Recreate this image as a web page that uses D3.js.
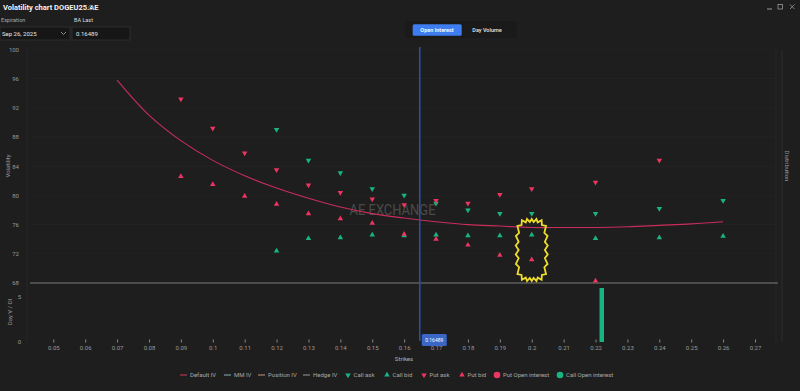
<!DOCTYPE html>
<html>
<head>
<meta charset="utf-8">
<script src="https://cdn.jsdelivr.net/npm/d3@7"></script>
<style>
  html, body { margin: 0; padding: 0; background: #1e1e1e; overflow: hidden; }
  svg { display: block; font-family: Roboto, "Noto Sans", sans-serif; }
</style>
</head>
<body>
<svg id="chart" width="800" height="391"></svg>
<script>
(function(){
	'use strict';

	// strikes with quotes
	var strikes   = [0.09, 0.10, 0.11, 0.12, 0.13, 0.14, 0.15, 0.16, 0.17, 0.18, 0.19, 0.20, 0.21, 0.22, 0.23, 0.24, 0.25, 0.26];
	var callAskIV = [null, null, null, 89.0, 84.8, 83.1, 80.9, 80.0, 78.9, 78.0, 77.5, 77.5, null, 77.5, null, 78.2, null, 79.3];
	var callBidIV = [null, null, null, 72.4, 74.1, 74.2, 74.6, 74.5, 74.6, 74.5, 74.5, 74.6, null, 74.1, null, 74.2, null, 74.4];
	var putAskIV  = [93.2, 89.2, 85.8, 83.5, 81.4, 80.4, 79.5, 78.7, 79.3, 78.9, 80.1, 80.9, null, 81.8, null, 84.8, null, null];
	var putBidIV  = [82.6, 81.5, 79.9, 78.8, 77.5, 76.8, 76.2, 74.7, 74.0, 73.2, 71.8, 71.2, null, 68.3, null, null, null, null];

	// default IV smile
	var curveStrikes = [0.07, 0.08, 0.09, 0.10, 0.11, 0.12, 0.13, 0.14, 0.15, 0.16, 0.17, 0.18, 0.19, 0.20, 0.21, 0.22, 0.23, 0.24, 0.25, 0.26];
	var defaultIV    = [95.8, 91.0, 87.5, 84.8, 82.7, 81.0, 79.6, 78.4, 77.5, 76.9, 76.4, 76.0, 75.8, 75.6, 75.6, 75.6, 75.7, 75.9, 76.1, 76.4];

	// open interest
	var oiStrikes = [0.22];
	var callOI    = [6];
	var putOI     = [0];

	var lastPrice = 0.16489;
	var xTicks = [0.05, 0.06, 0.07, 0.08, 0.09, 0.10, 0.11, 0.12, 0.13, 0.14, 0.15, 0.16, 0.17, 0.18, 0.19, 0.20, 0.21, 0.22, 0.23, 0.24, 0.25, 0.26, 0.27];
	var ivTicks = [68, 72, 76, 80, 84, 88, 92, 96, 100];
	var oiTicks = [0, 5];

	var legendItems = [
		{label: 'Default IV', type: 'line', color: '#d2355f'},
		{label: 'MM IV', type: 'line', color: '#8fa9b3'},
		{label: 'Position IV', type: 'line', color: '#c9957a'},
		{label: 'Hedge IV', type: 'line', color: '#9a9a9a'},
		{label: 'Call ask', type: 'down', color: '#17b583'},
		{label: 'Call bid', type: 'up', color: '#17b583'},
		{label: 'Put ask', type: 'down', color: '#ec3560'},
		{label: 'Put bid', type: 'up', color: '#ec3560'},
		{label: 'Put Open interest', type: 'dot', color: '#ec3560'},
		{label: 'Call Open interest', type: 'dot', color: '#17b583'}
	];

	var green = '#17b583', red = '#ec3560';
	var left = 30, right = 776;

	var svg = d3.select('#chart');

	var x = d3.scaleLinear().domain([0.05, 0.27]).range([53.3, 755]);
	var yIV = d3.scaleLinear().domain([68, 100]).range([283, 49.4]);
	var yOI = d3.scaleLinear().domain([0, 5]).range([342, 297]);

	// ---- header ----
	var head = svg.append('g');
	head.append('text').attr('x', 3).attr('y', 10).attr('fill', '#f2f2f2')
		.attr('font-size', 7.5).attr('font-weight', 700).text('Volatility chart DOGEU25.AE');
	head.append('circle').attr('cx', 91).attr('cy', 7.5).attr('r', 2.3)
		.attr('fill', 'none').attr('stroke', '#777').attr('stroke-width', 0.8);
	head.append('text').attr('x', 1).attr('y', 22).attr('fill', '#aaa').attr('font-size', 5.5).text('Expiration');
	head.append('text').attr('x', 74).attr('y', 22).attr('fill', '#ddd').attr('font-size', 5.5).text('BA Last');
	head.append('rect').attr('x', 0).attr('y', 27).attr('width', 70).attr('height', 13)
		.attr('fill', '#161616').attr('stroke', '#2c2c2c');
	head.append('rect').attr('x', 72).attr('y', 27).attr('width', 58).attr('height', 13)
		.attr('fill', '#161616').attr('stroke', '#2c2c2c');
	head.append('text').attr('x', 2).attr('y', 35.5).attr('fill', '#e6e6e6').attr('font-size', 6).text('Sep 26, 2025');
	head.append('path').attr('d', 'M61,32 L63.5,34.5 L66,32').attr('fill', 'none').attr('stroke', '#aaa').attr('stroke-width', 0.8);
	head.append('text').attr('x', 76).attr('y', 35.5).attr('fill', '#e6e6e6').attr('font-size', 6).text(lastPrice);

	// window controls
	head.append('line').attr('x1', 767).attr('x2', 772).attr('y1', 9).attr('y2', 9).attr('stroke', '#999');
	head.append('rect').attr('x', 778).attr('y', 4.5).attr('width', 4.5).attr('height', 4.5)
		.attr('fill', 'none').attr('stroke', '#999').attr('stroke-width', 0.8);
	head.append('path').attr('d', 'M790,4.5 L794.5,9 M794.5,4.5 L790,9').attr('stroke', '#999').attr('stroke-width', 0.8);

	// toggle buttons
	head.append('rect').attr('x', 405).attr('y', 21).attr('width', 112).attr('height', 17).attr('rx', 2).attr('fill', '#1a1a1a');
	head.append('rect').attr('x', 412.7).attr('y', 24.3).attr('width', 49).attr('height', 11.4).attr('rx', 1.5).attr('fill', '#3d7df0');
	head.append('text').attr('x', 437).attr('y', 32).attr('text-anchor', 'middle').attr('fill', '#fff')
		.attr('font-size', 5.5).attr('font-weight', 600).text('Open Interest');
	head.append('text').attr('x', 487).attr('y', 32).attr('text-anchor', 'middle').attr('fill', '#ddd')
		.attr('font-size', 5.5).attr('font-weight', 600).text('Day Volume');

	// ---- grid / frame ----
	svg.append('g').selectAll('line').data(ivTicks.slice(1)).enter().append('line')
		.attr('x1', left).attr('x2', right)
		.attr('y1', (d) => yIV(d)).attr('y2', (d) => yIV(d))
		.attr('stroke', '#252525').attr('stroke-width', 0.8);
	svg.append('line').attr('x1', left - 3).attr('x2', left - 3).attr('y1', 47).attr('y2', 342)
		.attr('stroke', '#262626');
	svg.append('line').attr('x1', right).attr('x2', right).attr('y1', 50).attr('y2', 342)
		.attr('stroke', '#262626');
	svg.append('line').attr('x1', 782).attr('x2', 782).attr('y1', 50).attr('y2', 342)
		.attr('stroke', '#2c2c2c');

	// watermark
	svg.append('text').attr('x', 392.5).attr('y', 215).attr('text-anchor', 'middle')
		.attr('fill', '#4a4a4a').attr('font-size', 15).attr('textLength', 86)
		.attr('lengthAdjust', 'spacingAndGlyphs').text('AE EXCHANGE');

	// ---- axes ----
	function styleAxis(g){
		g.select('.domain').remove();
		g.selectAll('text').attr('fill', '#9a9a9a').attr('font-size', 6).attr('font-family', 'Roboto, sans-serif');
		g.selectAll('line').attr('stroke', '#888');
	}

	svg.append('g').attr('transform', 'translate(21,0)')
		.call(d3.axisLeft(yIV).tickValues(ivTicks).tickSize(0).tickPadding(2).tickFormat(d3.format('d')))
		.call(styleAxis);
	svg.append('g').attr('transform', 'translate(23,0)')
		.call(d3.axisLeft(yOI).tickValues(oiTicks).tickSize(0).tickPadding(2).tickFormat(d3.format('d')))
		.call(styleAxis);
	svg.append('g').attr('transform', 'translate(0,339.5)')
		.call(d3.axisBottom(x).tickValues(xTicks).tickSize(3).tickPadding(3)
			.tickFormat((d) => String(+d.toFixed(2))))
		.call(styleAxis);

	svg.append('text').attr('transform', 'translate(10,166) rotate(-90)').attr('text-anchor', 'middle')
		.attr('fill', '#9a9a9a').attr('font-size', 6).text('Volatility');
	svg.append('text').attr('transform', 'translate(12,312) rotate(-90)').attr('text-anchor', 'middle')
		.attr('fill', '#9a9a9a').attr('font-size', 6).text('Day V / OI');
	svg.append('text').attr('x', (left + 778) / 2).attr('y', 361).attr('text-anchor', 'middle')
		.attr('fill', '#b0b0b0').attr('font-size', 6).text('Strikes');
	svg.append('text').attr('transform', 'translate(785,166) rotate(90)').attr('text-anchor', 'middle')
		.attr('fill', '#9a9a9a').attr('font-size', 6).text('Distribution');

	// panel separator
	svg.append('line').attr('x1', left).attr('x2', 778).attr('y1', yIV(68)).attr('y2', yIV(68))
		.attr('stroke', '#7a7a7a').attr('stroke-width', 1.2);

	// ---- default IV curve ----
	var curve = curveStrikes.map((s, i) => ({s: s, v: defaultIV[i]}));
	svg.append('path').datum(curve)
		.attr('fill', 'none').attr('stroke', '#c92d5c').attr('stroke-width', 1.1)
		.attr('d', d3.line().x((d) => x(d.s)).y((d) => yIV(d.v)).curve(d3.curveCatmullRom));

	// ---- last price line ----
	svg.append('line').attr('x1', x(lastPrice)).attr('x2', x(lastPrice)).attr('y1', 47).attr('y2', 341)
		.attr('stroke', '#2e4f96').attr('stroke-width', 1.6);

	// ---- open interest bars ----
	var oi = oiStrikes.map((s, i) => ({s: s, call: callOI[i], put: putOI[i]}));
	svg.append('g').selectAll('rect.call').data(oi).enter().append('rect')
		.attr('x', (d) => x(d.s) + 4).attr('width', 4.5)
		.attr('y', (d) => yOI(d.call)).attr('height', (d) => yOI(0) - yOI(d.call))
		.attr('fill', green);
	svg.append('g').selectAll('rect.put').data(oi.filter((d) => d.put > 0)).enter().append('rect')
		.attr('x', (d) => x(d.s) - 8.5).attr('width', 4.5)
		.attr('y', (d) => yOI(d.put)).attr('height', (d) => yOI(0) - yOI(d.put))
		.attr('fill', red);

	// last price badge
	var badge = svg.append('g').attr('transform', 'translate(' + (x(lastPrice) + 2) + ',334)');
	badge.append('rect').attr('width', 25).attr('height', 12).attr('rx', 1.5).attr('fill', '#3a66c6');
	badge.append('text').attr('x', 12.5).attr('y', 8.2).attr('text-anchor', 'middle')
		.attr('fill', '#fff').attr('font-size', 5).text(lastPrice);

	// ---- quote markers ----
	var tri = d3.symbol().type(d3.symbolTriangle).size(13);
	function drawMarkers(values, color, down){
		var pts = strikes.map((s, i) => ({s: s, v: values[i]})).filter((d) => d.v != null);
		svg.append('g').selectAll('path').data(pts).enter().append('path')
			.attr('d', tri)
			.attr('transform', (d) => 'translate(' + x(d.s) + ',' + yIV(d.v) + ')' + (down ? ' rotate(180)' : ''))
			.attr('fill', color);
	}
	drawMarkers(callBidIV, green, false);
	drawMarkers(putBidIV, red, false);
	drawMarkers(callAskIV, green, true);
	drawMarkers(putAskIV, red, true);

	// ---- highlight annotation ----
	var cx = x(0.20), cy = 250, rx = 16, ry = 31, n = 44;
	var zig = d3.range(n).map(function(i){
		var a = i / n * 2 * Math.PI;
		var c = Math.cos(a), s = Math.sin(a);
		var p = 4;
		var r = 1 / Math.pow(Math.pow(Math.abs(c), p) + Math.pow(Math.abs(s), p), 1 / p);
		var k = i % 2 ? 1 : 0.82;
		return [cx + rx * c * r * k, cy + ry * s * r * (i % 2 ? 1 : 0.9)];
	});
	svg.append('path').attr('d', d3.line()(zig) + 'Z')
		.attr('fill', 'none').attr('stroke', '#eedb2a').attr('stroke-width', 1.8).attr('stroke-linejoin', 'miter');

	// ---- legend ----
	var legendX = [180, 224, 258, 303, 348, 387, 424, 462, 497, 560];
	var lg = svg.append('g').selectAll('g').data(legendItems).enter().append('g')
		.attr('transform', (d, i) => 'translate(' + legendX[i] + ',375)');
	lg.each(function(d){
		var g = d3.select(this), tx;
		if (d.type === 'line') {
			g.append('line').attr('x1', 0).attr('x2', 7).attr('stroke', d.color).attr('stroke-width', 1);
			tx = 10;
		} else if (d.type === 'dot') {
			g.append('circle').attr('cx', 0).attr('r', 3.3).attr('fill', d.color);
			tx = 6;
		} else {
			g.append('path').attr('d', tri).attr('fill', d.color)
				.attr('transform', d.type === 'down' ? 'rotate(180)' : null);
			tx = 5.5;
		}
		g.append('text').attr('x', tx).attr('y', 2.2).attr('fill', '#a8a8a8').attr('font-size', 6).text(d.label);
	});

})();
</script>
</body>
</html>
